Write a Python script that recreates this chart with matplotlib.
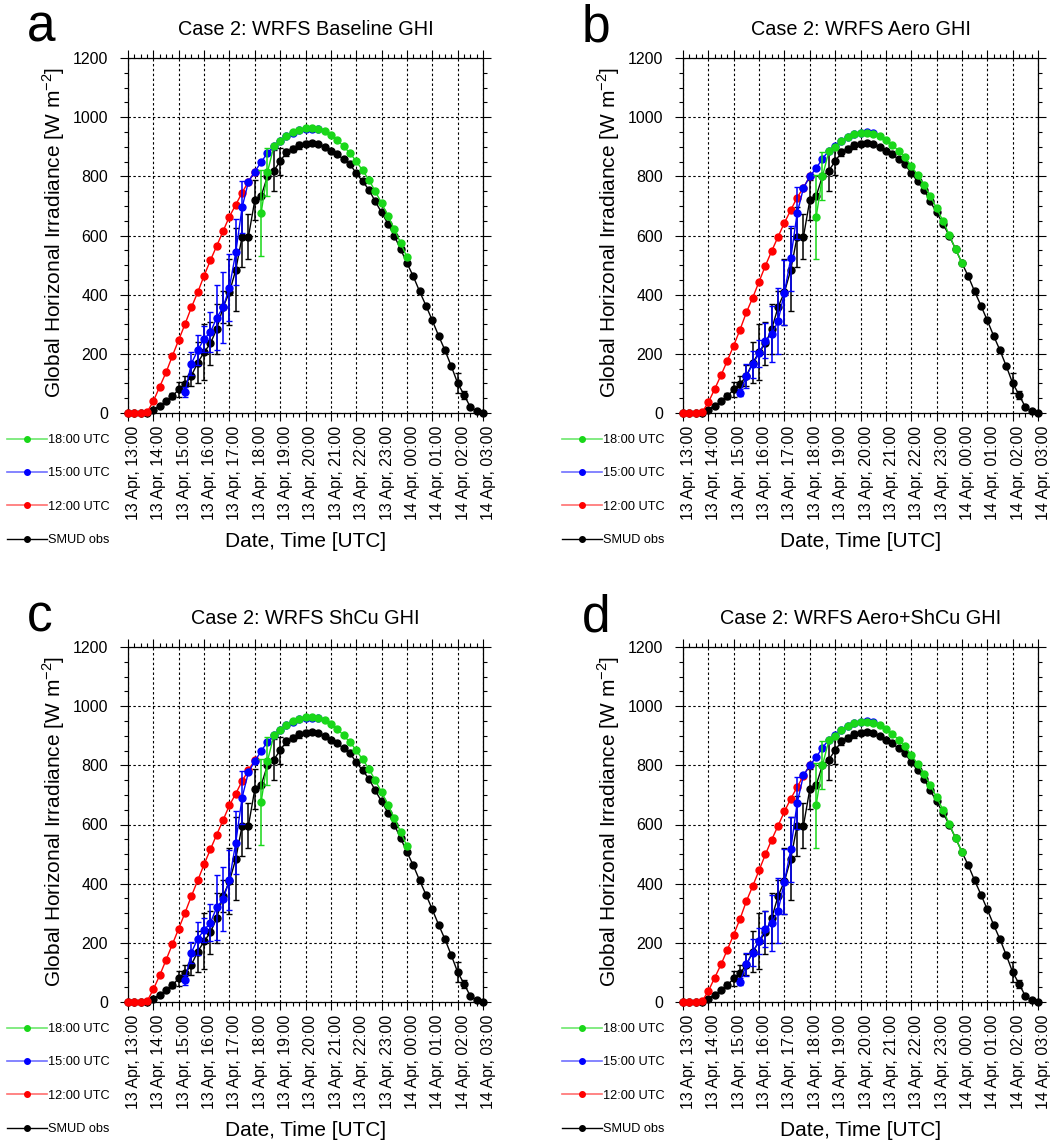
import numpy as np
import matplotlib.pyplot as plt
from matplotlib.lines import Line2D
from matplotlib.ticker import MultipleLocator
from matplotlib.transforms import ScaledTranslation

plt.rcParams['font.family'] = ['Liberation Sans', 'DejaVu Sans']
plt.rcParams['mathtext.fontset'] = 'custom'
plt.rcParams['mathtext.rm'] = 'Liberation Sans'

# time axis: hours after 13 Apr 13:00 UTC, data every 15 min
tick_labels = ['13 Apr, 13:00', '13 Apr, 14:00', '13 Apr, 15:00', '13 Apr, 16:00',
               '13 Apr, 17:00', '13 Apr, 18:00', '13 Apr, 19:00', '13 Apr, 20:00',
               '13 Apr, 21:00', '13 Apr, 22:00', '13 Apr, 23:00', '14 Apr, 00:00',
               '14 Apr, 01:00', '14 Apr, 02:00', '14 Apr, 03:00']
step = 0.25
f12_start = 0.0    # 12 UTC run, first value at 13:00
f15_start = 2.25   # 15 UTC run, first value at 15:15
f18_start = 5.25   # 18 UTC run, first value at 18:15

# SMUD observations (same in all panels)
obs_ghi = [0, 0, 0, 0, 11, 25, 39, 56, 80, 97,
           126, 170, 205, 235, 284, 358, 408, 484, 596, 596,
           719, 733, 800, 819, 851, 881, 892, 905, 910, 912,
           908, 900, 887, 874, 858, 841, 811, 783, 755, 715,
           678, 640, 599, 554, 507, 462, 411, 363, 313, 261,
           212, 158, 101, 62, 20, 6, 0]
obs_err = [0, 0, 0, 0, 0, 0, 0, 10, 25, 27,
           36, 70, 95, 73, 83, 55, 112, 140, 102, 77,
           67, 0, 0, 70, 45, 12, 10, 12, 8, 6,
           0, 0, 0, 0, 0, 0, 0, 0, 0, 0,
           0, 0, 0, 0, 0, 0, 0, 0, 0, 0,
           0, 0, 34, 14, 0, 0, 0]

# a: Baseline
base_f12 = [0, 0, 0, 2, 40, 89, 137, 193, 247, 301, 357, 408, 464, 516, 565, 615, 664, 704, 745, 782, 816]
base_f15 = [71, 167, 212, 250, 273, 322, 357, 424, 543, 695, 782, 816, 848, 879, 901, 919, 937, 948, 957, 961, 961, 959]
base_f15_err = [18, 39, 50, 44, 67, 110, 121, 113, 112, 88, 0, 0, 0, 0, 0, 0, 0, 0, 0, 0, 0, 0]
base_f18 = [676, 814, 901, 921, 937, 949, 958, 962, 963, 960, 952, 941, 924, 901, 879, 851, 820, 789, 749, 710, 667, 622, 575, 527]
base_f18_err = [144, 82, 0, 0, 0, 0, 0, 0, 0, 0, 0, 0, 0, 0, 0, 0, 0, 0, 0, 0, 0, 0, 0, 0]

# b: Aero
aero_f12 = [0, 0, 0, 2, 36, 81, 128, 177, 228, 282, 340, 390, 444, 498, 548, 596, 643, 686, 728, 762, 800]
aero_f15 = [69, 125, 165, 202, 245, 266, 311, 407, 523, 675, 760, 800, 827, 860, 886, 903, 920, 934, 943, 948, 949, 946]
aero_f15_err = [12, 40, 45, 45, 60, 95, 110, 110, 110, 88, 0, 0, 0, 0, 0, 0, 0, 0, 0, 0, 0, 0]
aero_f18 = [662, 800, 884, 900, 921, 934, 942, 946, 946, 942, 936, 923, 906, 887, 864, 835, 805, 771, 734, 692, 650, 602, 553, 508]
aero_f18_err = [143, 81, 0, 0, 0, 0, 0, 0, 0, 0, 0, 0, 0, 0, 0, 0, 0, 0, 0, 0, 0, 0, 0, 0]

# c: ShCu
shcu_f12 = [0, 0, 0, 2, 43, 90, 142, 195, 248, 302, 358, 411, 465, 516, 566, 615, 665, 704, 747, 783, 817]
shcu_f15 = [74, 167, 214, 243, 268, 320, 347, 412, 539, 691, 777, 814, 848, 879, 901, 919, 937, 948, 957, 961, 961, 959]
shcu_f15_err = [17, 36, 55, 40, 62, 110, 108, 101, 107, 90, 0, 0, 0, 0, 0, 0, 0, 0, 0, 0, 0, 0]
shcu_f18 = [676, 814, 901, 921, 937, 949, 958, 962, 963, 960, 952, 941, 924, 901, 879, 851, 820, 789, 749, 710, 667, 622, 575, 527]
shcu_f18_err = [144, 82, 0, 0, 0, 0, 0, 0, 0, 0, 0, 0, 0, 0, 0, 0, 0, 0, 0, 0, 0, 0, 0, 0]

# d: Aero+ShCu
aeroshcu_f12 = [0, 0, 0, 2, 37, 82, 127, 177, 228, 281, 341, 392, 445, 499, 549, 596, 644, 687, 726, 765, 800]
aeroshcu_f15 = [68, 127, 167, 206, 246, 268, 308, 406, 516, 672, 766, 800, 827, 860, 886, 903, 920, 934, 943, 948, 949, 946]
aeroshcu_f15_err = [12, 40, 45, 45, 60, 95, 110, 110, 110, 88, 0, 0, 0, 0, 0, 0, 0, 0, 0, 0, 0, 0]
aeroshcu_f18 = [665, 800, 884, 900, 921, 934, 942, 946, 946, 942, 936, 923, 906, 887, 864, 835, 805, 771, 734, 692, 650, 602, 553, 508]
aeroshcu_f18_err = [143, 81, 0, 0, 0, 0, 0, 0, 0, 0, 0, 0, 0, 0, 0, 0, 0, 0, 0, 0, 0, 0, 0, 0]

panel_letters = ['a', 'b', 'c', 'd']
panel_titles = ['Case 2: WRFS Baseline GHI', 'Case 2: WRFS Aero GHI',
                'Case 2: WRFS ShCu GHI', 'Case 2: WRFS Aero+ShCu GHI']
panel_runs = [(base_f12, base_f15, base_f15_err, base_f18, base_f18_err),
              (aero_f12, aero_f15, aero_f15_err, aero_f18, aero_f18_err),
              (shcu_f12, shcu_f15, shcu_f15_err, shcu_f18, shcu_f18_err),
              (aeroshcu_f12, aeroshcu_f15, aeroshcu_f15_err, aeroshcu_f18, aeroshcu_f18_err)]

GREEN = '#19d719'
BLUE = '#0000ff'
RED = '#ff0000'

W, H = 1050, 1141
fig = plt.figure(figsize=(W / 100, H / 100), dpi=100)

# axes boxes in pixels (left, top)
boxes = [(128, 58), (683, 58), (128, 647), (683, 647)]
size = 355


def draw_series(ax, start, vals, errs, color, z):
    t = start + np.arange(len(vals)) * step
    v = np.array(vals, dtype=float)
    ax.plot(t, v, '-o', color=color, lw=1.0, ms=5, zorder=z, clip_on=False)
    if errs is not None:
        e = np.array(errs, dtype=float)
        m = e > 0
        ax.errorbar(t[m], v[m], yerr=e[m], fmt='none', ecolor=color,
                    elinewidth=1.1, capsize=2.2, capthick=1.0, zorder=z)


for k in range(4):
    left, top = boxes[k]
    ax = fig.add_axes([left / W, 1 - (top + size) / H, size / W, size / H])
    f12, f15, f15_err, f18, f18_err = panel_runs[k]

    draw_series(ax, 0.0, obs_ghi, obs_err, 'black', 3)
    draw_series(ax, f12_start, f12, None, RED, 4)
    draw_series(ax, f15_start, f15, f15_err, BLUE, 5)
    draw_series(ax, f18_start, f18, f18_err, GREEN, 6)

    ax.set_xlim(0, 14)
    ax.set_ylim(0, 1200)
    ax.set_xticks(np.arange(len(tick_labels)))
    ax.set_xticklabels(tick_labels, rotation=90, fontsize=11.5)
    ax.xaxis.set_minor_locator(MultipleLocator(0.25))
    ax.yaxis.set_major_locator(MultipleLocator(200))
    ax.yaxis.set_minor_locator(MultipleLocator(50))
    ax.tick_params(axis='y', labelsize=11.5, pad=8.5)
    ax.tick_params(axis='x', pad=3.5)
    ax.tick_params(which='both', direction='out', top=True, right=True, width=0.8)
    ax.tick_params(which='major', length=5.8)
    ax.tick_params(which='minor', length=2.6)
    for sp in ax.spines.values():
        sp.set_linewidth(0.9)
    ax.grid(True, which='major', color='black', linestyle=(0, (2.2, 2.2)), linewidth=0.8)

    # rotated labels sit a little right of their tick
    shift = ScaledTranslation(5.5 / 100, 0, fig.dpi_scale_trans)
    for lab in ax.get_xticklabels():
        lab.set_transform(lab.get_transform() + shift)

    ax.set_ylabel('Global Horizonal Irradiance [W m$^{-2}$]', fontsize=15)
    ax.yaxis.set_label_coords(-0.208, 0.51)
    ax.yaxis.label.set_va('center')
    ax.set_xlabel('Date, Time [UTC]', fontsize=15)
    ax.xaxis.set_label_coords(0.5, -0.362)
    ax.xaxis.label.set_va('center')

    ax.text(0.5, 1 + 23 / size, panel_titles[k], transform=ax.transAxes,
            ha='center', va='baseline', fontsize=14.3)
    ax.text(-101 / size, 1 + 16 / size, panel_letters[k], transform=ax.transAxes,
            ha='left', va='baseline', fontsize=37)

    # legend under the y axis
    handles = [Line2D([], [], color='#6de86d', lw=1.2, marker='o', ms=4, mfc=GREEN, mec=GREEN),
               Line2D([], [], color='#7070ff', lw=1.2, marker='o', ms=4, mfc=BLUE, mec=BLUE),
               Line2D([], [], color='#ff7070', lw=1.2, marker='o', ms=4, mfc=RED, mec=RED),
               Line2D([], [], color='black', lw=1.0, marker='o', ms=4, mfc='black', mec='black')]
    ax.legend(handles, ['18:00 UTC', '15:00 UTC', '12:00 UTC', 'SMUD obs'],
              loc='upper left', bbox_to_anchor=(-121 / size, -21 / size),
              frameon=False, fontsize=9.2, handlelength=3.1, handletextpad=0.1,
              labelspacing=1.67, borderpad=0, borderaxespad=0)

fig.savefig('out.png', dpi=100)
